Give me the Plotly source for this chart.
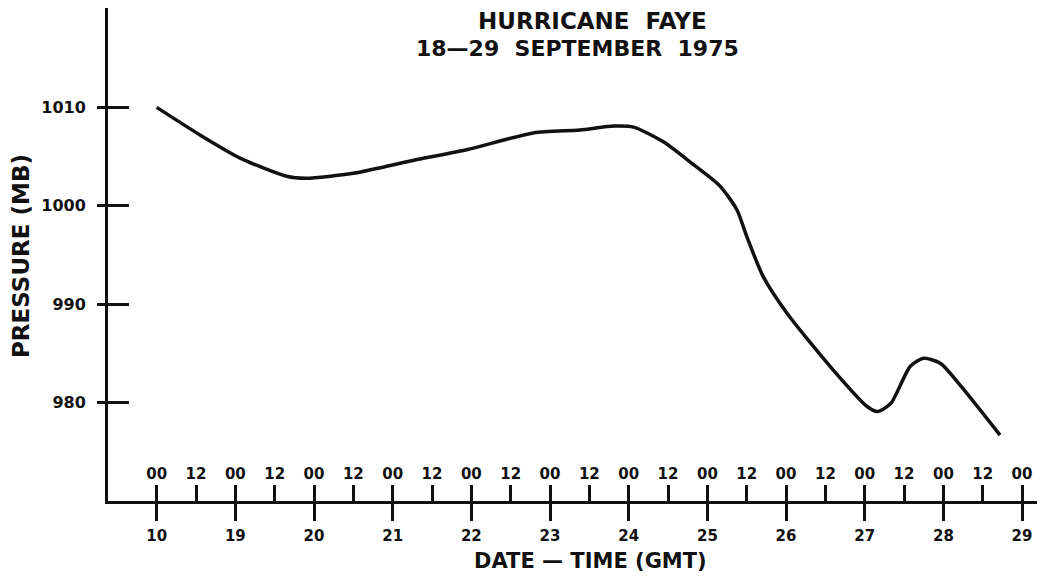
import plotly.graph_objects as go

# Data (day of September 1975, pressure in mb)
day = [18.0, 18.55, 19.06, 19.65, 19.9, 20.5, 21.31, 21.94, 22.79, 23.38, 23.81, 24.06,
       24.44, 24.82, 25.16, 25.375, 25.5, 25.71, 26.01, 26.6, 27.03, 27.16, 27.33, 27.58,
       27.75, 27.96, 28.21, 28.72]
pressure = [1010.0, 1007.2, 1004.85, 1003.0, 1002.8, 1003.3, 1004.7, 1005.7, 1007.4, 1007.7,
            1008.1, 1008.0, 1006.5, 1004.2, 1002.0, 999.6, 996.9, 992.8, 989.1, 983.3, 979.6,
            979.1, 979.9, 983.7, 984.5, 984.0, 981.8, 976.7]

date_days = list(range(18, 30))
date_labels = ["10", "19", "20", "21", "22", "23", "24", "25", "26", "27", "28", "29"]
hour_days = [d + h for d in range(18, 29) for h in (0.0, 0.5)] + [29.0]
hour_labels = ["00", "12"] * 11 + ["00"]
y_ticks = [980, 990, 1000, 1010]

FONT = "DejaVu Sans"
INK = "#111111"

L, R, T, B = 108, 1037, 8, 501
W, H = 1041, 578

def px(xp):
    return (xp - L) / (R - L)

def py(yp):
    return 1 - (yp - T) / (B - T)

fig = go.Figure()
fig.add_trace(go.Scatter(x=day, y=pressure, mode="lines",
                         line=dict(color=INK, width=3.5, shape="spline", smoothing=0.7),
                         showlegend=False, hoverinfo="skip"))
fig.add_trace(go.Scatter(x=[day[0]], y=[pressure[0]], xaxis="x2", yaxis="y2",
                         mode="markers", marker=dict(opacity=0), showlegend=False,
                         hoverinfo="skip"))

xr = [17.381, 29.19]
yr = [970, 1020.1]

fig.update_layout(
    width=W, height=H,
    margin=dict(l=L, r=W - R, t=T, b=H - B, autoexpand=False),
    paper_bgcolor="white", plot_bgcolor="white",
    xaxis=dict(range=xr, showgrid=False, zeroline=False, showline=True, automargin=False,
               linecolor=INK, linewidth=3, ticks="inside", ticklen=16,
               tickwidth=2.5, tickcolor=INK, tickmode="array",
               tickvals=hour_days, ticktext=hour_labels,
               ticklabelposition="inside", ticklabelstandoff=3,
               tickfont=dict(family=FONT, size=15, color=INK, weight="bold")),
    xaxis2=dict(range=xr, overlaying="x", anchor="y", side="bottom", automargin=False,
                showgrid=False, zeroline=False, showline=False,
                ticks="outside", ticklen=19, tickwidth=2.5, tickcolor=INK,
                tickmode="array", tickvals=date_days, ticktext=date_labels,
                ticklabelstandoff=2,
                tickfont=dict(family=FONT, size=15, color=INK, weight="bold")),
    yaxis=dict(range=yr, showgrid=False, zeroline=False, showline=True, automargin=False,
               linecolor=INK, linewidth=3, ticks="outside", ticklen=8,
               tickwidth=2.5, tickcolor=INK, tickmode="array",
               tickvals=y_ticks, ticktext=[str(v) for v in y_ticks],
               ticklabelstandoff=8,
               tickfont=dict(family=FONT, size=16, color=INK, weight="bold")),
    yaxis2=dict(range=yr, overlaying="y", anchor="x", side="left", automargin=False,
                showgrid=False, zeroline=False, showline=False,
                ticks="inside", ticklen=21, tickwidth=2.5, tickcolor=INK,
                tickmode="array", tickvals=y_ticks, showticklabels=False),
    annotations=[
        dict(text="HURRICANE  FAYE", xref="paper", yref="paper",
             x=px(592), y=py(21), xanchor="center", yanchor="middle", showarrow=False,
             font=dict(family=FONT, size=23, color=INK, weight="bold")),
        dict(text="18\u201429  SEPTEMBER  1975", xref="paper", yref="paper",
             x=px(577), y=py(49), xanchor="center", yanchor="middle", showarrow=False,
             font=dict(family=FONT, size=22, color=INK, weight="bold")),
        dict(text="DATE \u2014 TIME (GMT)", xref="paper", yref="paper",
             x=px(590), y=py(561), xanchor="center", yanchor="middle", showarrow=False,
             font=dict(family=FONT, size=21, color=INK, weight="bold")),
        dict(text="PRESSURE (MB)", xref="paper", yref="paper", textangle=-90,
             x=px(21), y=py(256), xanchor="center", yanchor="middle", showarrow=False,
             font=dict(family=FONT, size=23, color=INK, weight="bold")),
    ],
)

fig.write_html("out.html", config={"displayModeBar": False},
               post_script="document.body.style.margin='0px';"
                           "document.body.style.overflow='hidden';")
